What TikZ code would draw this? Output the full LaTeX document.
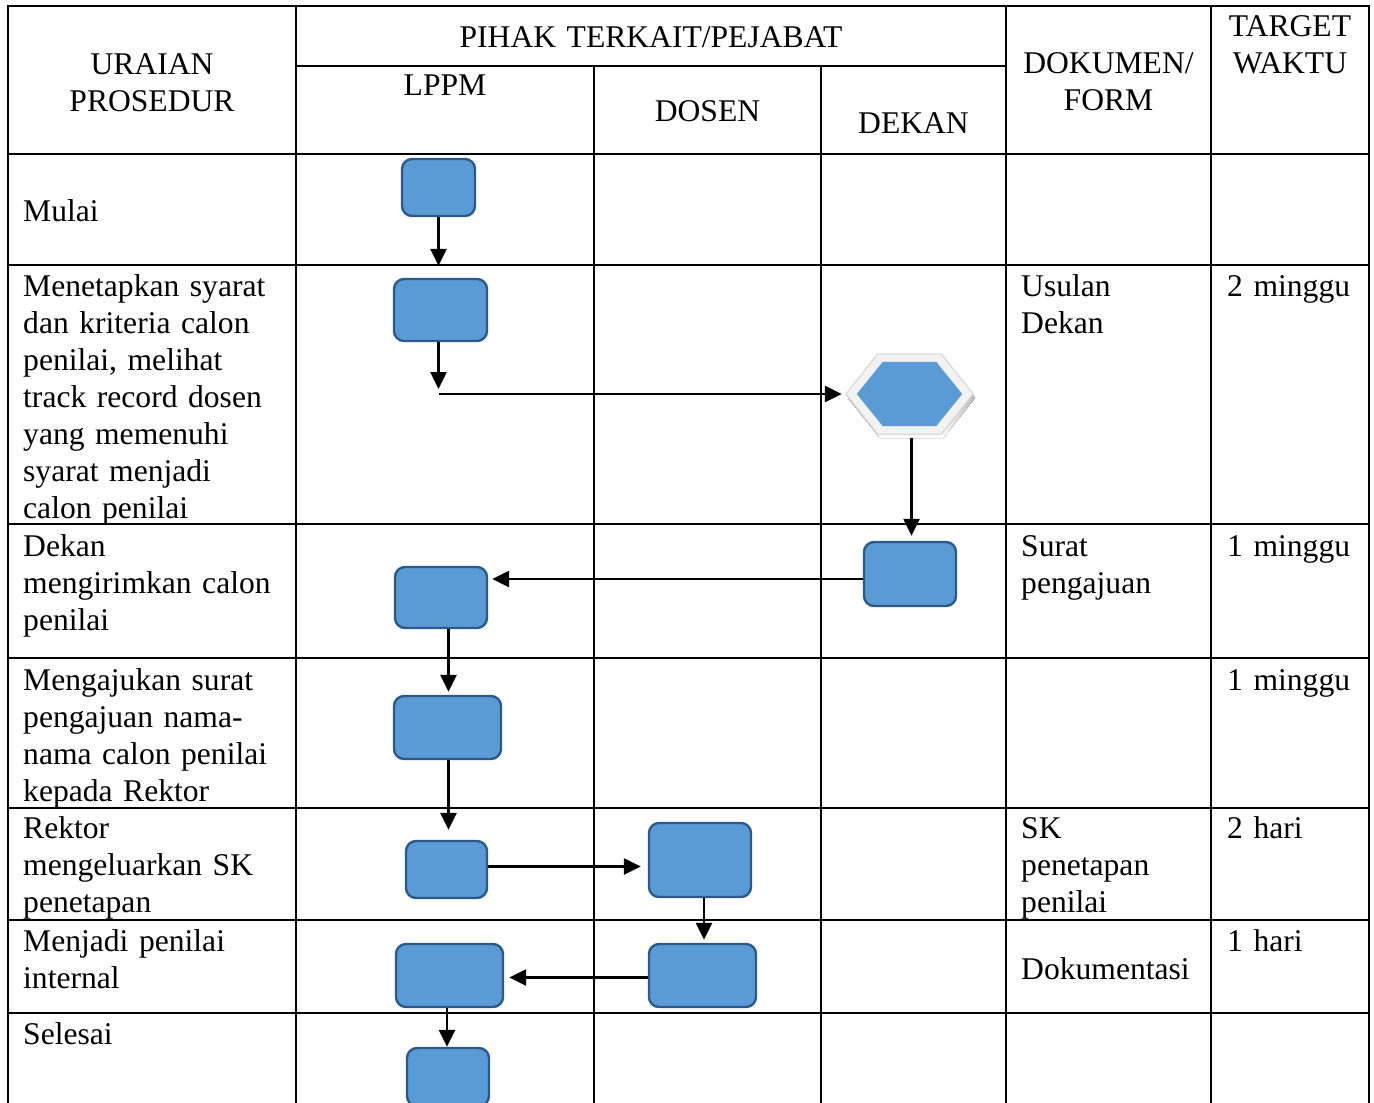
\documentclass[tikz,border=0pt]{standalone}
\usepackage{fontspec}
\setmainfont{Liberation Serif}
\usetikzlibrary{arrows.meta,calc}

\definecolor{boxfill}{HTML}{5B9BD5}
\definecolor{boxline}{HTML}{2B5A8A}
\definecolor{rimfill}{HTML}{F2F2F2}
\definecolor{rimline}{HTML}{D4D4D4}
\definecolor{shade}{HTML}{90A8C6}

\tikzset{
  tabline/.style={line width=2.6pt, line cap=rect},
  proc/.style={draw=boxline, fill=boxfill, line width=2.4pt, rounded corners=10pt, inner sep=0pt},
  arr/.style={-{Triangle[width=16pt,length=17pt]}, line width=2.5pt},
  txt/.style={anchor=base west, inner sep=0pt, align=left, text width=#1},
  txt/.default=280pt,
  hdr/.style={anchor=base, inner sep=0pt, align=center, text width=#1},
  hdr/.default=200pt,
}

% hexagon outline from a node: inset dx at the tips, dy at top/bottom, c = tip offset
\newcommand{\hexpath}[4]{($(#1.west)+(#2,0)$) -- ($(#1.north west)+(#4,#3)$) -- ($(#1.north east)+(-#4,#3)$) -- ($(#1.east)+(-#2,0)$) -- ($(#1.south east)+(-#4,-#3)$) -- ($(#1.south west)+(#4,-#3)$) -- cycle}

\begin{document}
\begin{tikzpicture}[x=1pt, y=-1pt, font=\fontsize{31.6}{37}\selectfont]

  \useasboundingbox (0,0) rectangle (1374,1103);
  \clip (0,0) rectangle (1374,1103);

  % Table
  \draw[tabline] (8,1103) -- (8,6) -- (1369,6) -- (1369,1103);
  \foreach \x in {296,1006,1211} \draw[tabline] (\x,6) -- (\x,1103);
  \foreach \x in {594,821} \draw[tabline] (\x,66) -- (\x,1103);
  \draw[tabline] (296,66) -- (1006,66);
  \foreach \y in {154,265,524,658,808,920,1013} \draw[tabline] (8,\y) -- (1369,\y);

  % Header
  \node[hdr=280pt] (uraian) at (152,74) {URAIAN\\PROSEDUR};
  \node[hdr=600pt] (pihak) at (651,47) {PIHAK TERKAIT/PEJABAT};
  \node[hdr] (lppm) at (445,95) {LPPM};
  \node[hdr] (dosen) at (707.5,121) {DOSEN};
  \node[hdr] (dekanh) at (913.5,133) {DEKAN};
  \node[hdr] (dokumen) at (1108.5,73) {DOKUMEN/\\FORM};
  \node[hdr=150pt] (target) at (1290,36) {TARGET\\WAKTU};

  % Uraian prosedur
  \node[txt] (u1) at (23,221) {Mulai};
  \node[txt] (u2) at (23,296) {Menetapkan syarat\\dan kriteria calon\\penilai, melihat\\track record dosen\\yang memenuhi\\syarat menjadi\\calon penilai};
  \node[txt] (u3) at (23,556) {Dekan\\mengirimkan calon\\penilai};
  \node[txt] (u4) at (23,690) {Mengajukan surat\\pengajuan nama-\\nama calon penilai\\kepada Rektor};
  \node[txt] (u5) at (23,838) {Rektor\\mengeluarkan SK\\penetapan};
  \node[txt] (u6) at (23,951) {Menjadi penilai\\internal};
  \node[txt] (u7) at (23,1044) {Selesai};

  % Dokumen / form
  \node[txt=185pt] (d2) at (1021,296) {Usulan\\Dekan};
  \node[txt=185pt] (d3) at (1021,556) {Surat\\pengajuan};
  \node[txt=185pt] (d5) at (1021,838) {SK\\penetapan\\penilai};
  \node[txt=185pt] (d6) at (1021,979) {Dokumentasi};

  % Target waktu
  \node[txt=140pt] (t2) at (1227,296) {2 minggu};
  \node[txt=140pt] (t3) at (1227,556) {1 minggu};
  \node[txt=140pt] (t4) at (1227,690) {1 minggu};
  \node[txt=140pt] (t5) at (1227,838) {2 hari};
  \node[txt=140pt] (t6) at (1227,951) {1 hari};

  % Define nodes
  \node[proc, minimum width=73, minimum height=57] (mulai) at (438.5,187.5) {};
  \node[proc, minimum width=93, minimum height=62] (syarat) at (440.5,310) {};
  \node[minimum width=127, minimum height=80, inner sep=0pt] (usulan) at (909.5,394) {};
  \fill[shade, transform canvas={shift={(2,4)}}] \hexpath{usulan}{0}{0}{32};
  \filldraw[fill=rimfill, draw=rimline, line width=1pt] \hexpath{usulan}{0}{0}{32};
  \fill[boxfill] \hexpath{usulan}{11}{8}{37};
  \node[proc, minimum width=92, minimum height=64] (dekan) at (910,574) {};
  \node[proc, minimum width=92, minimum height=61] (terima) at (441,597.5) {};
  \node[proc, minimum width=107, minimum height=63] (ajukan) at (447.5,727.5) {};
  \node[proc, minimum width=81, minimum height=57] (rektor) at (446.5,869.5) {};
  \node[proc, minimum width=102, minimum height=74] (skdosen) at (700,860) {};
  \node[proc, minimum width=107, minimum height=63] (nilai) at (702.5,975.5) {};
  \node[proc, minimum width=107, minimum height=63] (internal) at (449.5,975.5) {};
  \node[proc, minimum width=82, minimum height=58] (selesai) at (448,1077) {};
  \coordinate (belok) at ($(syarat.south |- usulan.west)+(-2,0)$);

  % Connect the nodes
  \draw[arr, shorten >=12pt] (mulai.south) -- (mulai.south |- syarat.north);
  \draw[arr, shorten >=5pt] (belok |- syarat.south) -- (belok);
  \draw[arr, shorten >=4pt] (belok) -- (usulan.west);
  \draw[arr, shorten <=4pt, shorten >=5pt] ($(usulan.south)+(2,0)$) -- ($(usulan.south |- dekan.north)+(2,0)$);
  \draw[arr, shorten >=4pt] ($(dekan.west)+(0,5)$) -- ($(terima.east |- dekan.west)+(0,5)$);
  \draw[arr, shorten >=3pt] ($(ajukan.north |- terima.south)+(1,0)$) -- ($(ajukan.north)+(1,0)$);
  \draw[arr, shorten >=10pt] ($(ajukan.south)+(1,0)$) -- ($(ajukan.south |- rektor.north)+(1,0)$);
  \draw[arr, shorten >=7pt] ($(rektor.east)+(0,-3)$) -- ($(skdosen.west |- rektor.east)+(0,-3)$);
  \draw[arr, shorten >=3pt] ($(skdosen.south)+(4,0)$) -- ($(skdosen.south |- nilai.north)+(4,0)$);
  \draw[arr, shorten >=5pt] ($(nilai.west)+(0,2)$) -- ($(internal.east |- nilai.west)+(0,2)$);
  \draw[arr] ($(selesai.north |- internal.south)+(-1,0)$) -- ($(selesai.north)+(-1,0)$);

\end{tikzpicture}
\end{document}
